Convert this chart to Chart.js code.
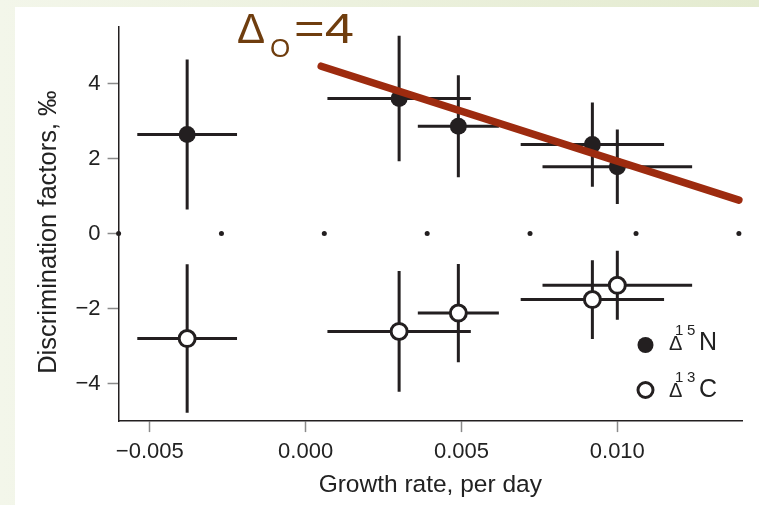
<!DOCTYPE html>
<html>
<head>
<meta charset="utf-8">
<script src="https://cdn.jsdelivr.net/npm/chart.js@4"></script>
<style>
  html, body { margin: 0; padding: 0; }
  body {
    width: 759px; height: 505px; overflow: hidden;
    background: linear-gradient(to right, #f3f6ea, #e4ebd0);
  }
  #wrap {
    position: absolute; left: 15px; top: 7px;
    width: 744px; height: 498px; background: #ffffff;
  }
</style>
</head>
<body>
<div id="wrap"><canvas id="chart"></canvas></div>
<script>
// growth rate (per day) and its error, shared by both isotopes
const growthRate = [-0.0038, 0.0030, 0.0049, 0.0092, 0.0100];
const growthErr = [0.0016, 0.0023, 0.0013, 0.0023, 0.0024];

// discrimination factors, ‰
const deltaN = [2.64, 3.60, 2.86, 2.37, 1.78];
const deltaNErr = [2.00, 1.67, 1.36, 1.12, 0.99];
const deltaC = [-2.80, -2.61, -2.12, -1.76, -1.38];
const deltaCErr = [1.98, 1.61, 1.31, 1.05, 0.92];

// red line labelled Δo=4
const fitLineX = [0.0005, 0.0139];
const fitLineY = [4.46, 0.89];

// dotted zero line
const zeroDotsX = [-0.0060, -0.0027, 0.0006, 0.0039, 0.0072, 0.0106, 0.0139];

const xTicks = [-0.005, 0.000, 0.005, 0.010];
const yTicks = [-4, -2, 0, 2, 4];

const FONT = '"Liberation Sans", Arial, Helvetica, sans-serif';
const INK = '#231f20';

const toPoints = (xs, ys) => xs.map((x, i) => ({ x: x, y: ys[i] }));
const minus = s => s.replace('-', '\u2212');

// error bars, drawn under the markers
const errorBars = {
    id: 'errorBars',
    beforeDatasetsDraw(chart) {
        const ctx = chart.ctx;
        const xs = chart.scales.x;
        const ys = chart.scales.y;
        ctx.save();
        ctx.strokeStyle = INK;
        ctx.lineWidth = 3;
        ctx.lineCap = 'butt';
        [[deltaN, deltaNErr], [deltaC, deltaCErr]].forEach(([vals, errs]) => {
            vals.forEach((v, i) => {
                const x = growthRate[i];
                ctx.beginPath();
                ctx.moveTo(xs.getPixelForValue(x - growthErr[i]), ys.getPixelForValue(v));
                ctx.lineTo(xs.getPixelForValue(x + growthErr[i]), ys.getPixelForValue(v));
                ctx.moveTo(xs.getPixelForValue(x), ys.getPixelForValue(v - errs[i]));
                ctx.lineTo(xs.getPixelForValue(x), ys.getPixelForValue(v + errs[i]));
                ctx.stroke();
            });
        });
        ctx.restore();
    }
};

// y title, Δo=4 label and the legend
const annotations = {
    id: 'annotations',
    afterDraw(chart) {
        const ctx = chart.ctx;
        const area = chart.chartArea;
        ctx.save();

        // y axis title
        ctx.save();
        ctx.translate(34, (area.top + area.bottom) / 2 + 8);
        ctx.rotate(-Math.PI / 2);
        ctx.textAlign = 'center';
        ctx.textBaseline = 'middle';
        ctx.fillStyle = '#222222';
        ctx.font = '25.5px ' + FONT;
        ctx.fillText('Discrimination factors, \u2030', 0, 0);
        ctx.restore();

        ctx.textBaseline = 'alphabetic';
        ctx.textAlign = 'left';

        ctx.fillStyle = '#6f3d0e';
        ctx.font = '42px ' + FONT;
        ctx.fillText('\u0394', 222, 36);
        ctx.save();
        ctx.translate(279, 36);
        ctx.scale(1.25, 1);
        ctx.fillText('=4', 0, 0);
        ctx.restore();
        ctx.font = '26px ' + FONT;
        ctx.fillText('O', 255, 50);

        const rows = [
            { y: 343, sup: ['1', '5'], el: 'N', filled: true },
            { y: 390, sup: ['1', '3'], el: 'C', filled: false }
        ];
        rows.forEach((r, k) => {
            ctx.beginPath();
            ctx.arc(630.5, k === 0 ? 338 : 383, r.filled ? 8 : 7.5, 0, Math.PI * 2);
            if (r.filled) {
                ctx.fillStyle = INK;
                ctx.fill();
            } else {
                ctx.fillStyle = '#ffffff';
                ctx.fill();
                ctx.lineWidth = 3;
                ctx.strokeStyle = INK;
                ctx.stroke();
            }
            ctx.fillStyle = '#222222';
            ctx.font = '20px ' + FONT;
            ctx.fillText('\u0394', 654, r.y);
            ctx.font = '15px ' + FONT;
            ctx.fillText(r.sup[0], 660, r.y - 15);
            ctx.fillText(r.sup[1], 672, r.y - 15);
            ctx.font = '25px ' + FONT;
            ctx.fillText(r.el, 684, r.y);
        });
        ctx.restore();
    }
};

new Chart(document.getElementById('chart'), {
    type: 'scatter',
    data: {
        datasets: [
            {
                type: 'line',
                label: 'fit',
                data: toPoints(fitLineX, fitLineY),
                borderColor: '#9d2b0f',
                borderWidth: 7.5,
                borderCapStyle: 'round',
                pointRadius: 0,
                fill: false,
                clip: false,
                order: 0
            },
            {
                label: '\u039415N',
                data: toPoints(growthRate, deltaN),
                pointRadius: 8.5,
                backgroundColor: INK,
                borderWidth: 0,
                order: 1
            },
            {
                label: '\u039413C',
                data: toPoints(growthRate, deltaC),
                pointRadius: 8,
                backgroundColor: '#ffffff',
                borderColor: INK,
                borderWidth: 3,
                order: 1
            },
            {
                label: 'zero',
                data: zeroDotsX.map(x => ({ x: x, y: 0 })),
                pointRadius: 2.5,
                backgroundColor: INK,
                borderWidth: 0,
                clip: false,
                order: 2
            }
        ]
    },
    options: {
        responsive: true,
        maintainAspectRatio: false,
        animation: false,
        layout: { padding: { top: 18, right: 17, left: 53.5, bottom: 0 } },
        plugins: {
            legend: { display: false },
            tooltip: { enabled: false }
        },
        scales: {
            x: {
                type: 'linear',
                min: -0.006,
                max: 0.014,
                afterBuildTicks: s => { s.ticks = xTicks.map(v => ({ value: v })); },
                ticks: {
                    font: { family: FONT, size: 22 },
                    color: '#222222',
                    padding: 7,
                    maxRotation: 0,
                    callback: v => minus(Number(v).toFixed(3))
                },
                grid: {
                    drawOnChartArea: false,
                    tickLength: 11,
                    tickColor: '#8a8a8a',
                    tickWidth: 1.5
                },
                border: { display: true, color: INK, width: 1.5 },
                title: {
                    display: true,
                    text: 'Growth rate, per day',
                    font: { family: FONT, size: 24.5, lineHeight: 1 },
                    color: '#222222',
                    padding: { top: 0, bottom: 8 }
                }
            },
            y: {
                min: -5,
                max: 5.5,
                afterBuildTicks: s => { s.ticks = yTicks.map(v => ({ value: v })); },
                ticks: {
                    font: { family: FONT, size: 22 },
                    color: '#222222',
                    padding: 7,
                    callback: v => minus(String(v))
                },
                grid: {
                    drawOnChartArea: false,
                    tickLength: 11,
                    tickColor: '#8a8a8a',
                    tickWidth: 1.5
                },
                border: { display: true, color: INK, width: 1.5 },
                title: { display: false }
            }
        }
    },
    plugins: [errorBars, annotations]
});
</script>
</body>
</html>
